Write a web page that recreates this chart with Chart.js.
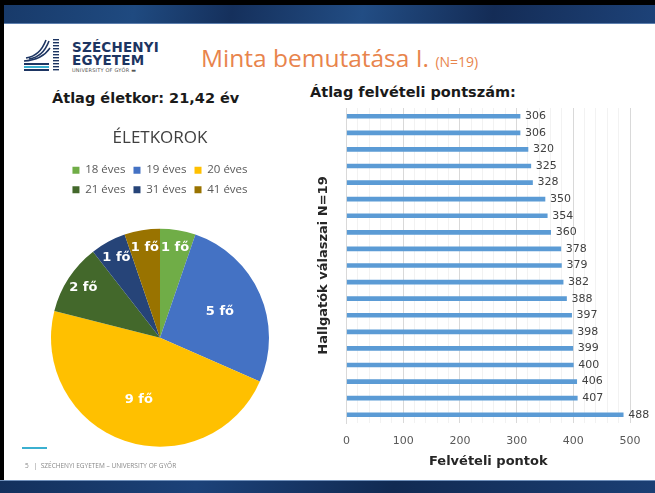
<!DOCTYPE html>
<html>
<head>
<meta charset="utf-8">
<script src="https://cdn.jsdelivr.net/npm/chart.js@4/dist/chart.umd.min.js"></script>
<style>
  html, body { margin: 0; padding: 0; }
  body { width: 655px; height: 493px; position: relative; overflow: hidden; background: #fff; font-family: "DejaVu Sans", Verdana, sans-serif; }
  .abs { position: absolute; }
  #topbar { left: 0; top: 0; width: 655px; height: 24px; background: #000; }
  #topbar div { position: absolute; left: 4px; top: 5px; right: 0; bottom: 0;
    background: linear-gradient(100deg, #183a6a 0%, #1f4a80 20%, #15305c 35%, #224d84 55%, #142c56 75%, #1d4278 100%); border-bottom: 1px solid #5d7fae; }
  #leftline { left: 0; top: 0; width: 4px; height: 493px; background: #000; }
  #botbar { left: 0; top: 480px; width: 655px; height: 13px;
    background: linear-gradient(100deg, #13305c 0%, #1c4279 30%, #112a52 60%, #1b3f74 100%); border-top: 1px solid #7090bb; }
  #brand1, #brand2 { left: 72px; font-weight: bold; color: #1d3562; font-size: 13.5px; letter-spacing: 0.2px; }
  #brand1 { top: 39px; }
  #brand2 { top: 52px; }
  #brand3 { left: 72px; top: 67px; font-size: 5px; color: #555; letter-spacing: 0.2px; }
  #title { left: 201px; top: 41px; font-family: "Open Sans", sans-serif; font-size: 24.5px; color: #e8844c; white-space: nowrap; }
  #title span { font-size: 14px; }
  #h1 { left: 52px; top: 90px; font-weight: bold; font-size: 14.5px; color: #1a1a1a; white-space: nowrap; }
  #h2 { left: 310px; top: 84px; font-weight: bold; font-size: 14.5px; color: #1a1a1a; white-space: nowrap; }
  #footline { left: 22px; top: 447px; width: 25px; height: 2px; background: #3bb0d0; }
  #foot { left: 25px; top: 461px; font-size: 6.5px; color: #888; white-space: nowrap; font-family: "Open Sans", sans-serif; }
  #pieWrap { left: 40px; top: 108px; width: 240px; height: 372px; }
  #barWrap { left: 300px; top: 100px; width: 355px; height: 381px; }
</style>
</head>
<body>
<div id="topbar" class="abs"><div></div></div>
<div id="leftline" class="abs"></div>
<div id="botbar" class="abs"></div>

<svg class="abs" style="left:20px;top:36px" width="42" height="36" viewBox="0 0 42 36">
  <path d="M6 22 Q20 20 26 4" stroke="#1d3562" stroke-width="1.6" fill="none"/>
  <path d="M9 23 Q23 21 29 5" stroke="#1d3562" stroke-width="1.6" fill="none"/>
  <path d="M4 25 Q22 24 30 12" stroke="#1d3562" stroke-width="1.4" fill="none"/>
  <rect x="4" y="27" width="25" height="2" fill="#1d3562"/>
  <rect x="4" y="30" width="25" height="2" fill="#3bb0d0"/>
  <rect x="4" y="33" width="25" height="2" fill="#1d3562"/>
  <g fill="#1d3562">
    <rect x="33" y="3" width="6" height="1.4"/><rect x="33" y="6" width="6" height="1.4"/>
    <rect x="33" y="9" width="6" height="1.4"/><rect x="33" y="12" width="6" height="1.4"/>
    <rect x="33" y="15" width="6" height="1.4"/><rect x="33" y="18" width="6" height="1.4"/>
    <rect x="33" y="21" width="6" height="1.4"/><rect x="33" y="24" width="6" height="1.4"/>
    <rect x="33" y="27" width="6" height="1.4"/><rect x="33" y="30" width="6" height="1.4"/>
    <rect x="33" y="33" width="6" height="1.4"/>
  </g>
</svg>
<div id="brand1" class="abs">SZÉCHENYI</div>
<div id="brand2" class="abs">EGYETEM</div>
<div id="brand3" class="abs">UNIVERSITY OF GYŐR ▬</div>

<div id="title" class="abs">Minta bemutatása I. <span>(N=19)</span></div>
<div id="h1" class="abs">Átlag életkor: 21,42 év</div>
<div id="h2" class="abs">Átlag felvételi pontszám:</div>

<div id="pieWrap" class="abs"><canvas id="pie"></canvas></div>
<div id="barWrap" class="abs"><canvas id="bar"></canvas></div>

<div id="footline" class="abs"></div>
<div id="foot" class="abs">5 &nbsp;&nbsp;| &nbsp;SZÉCHENYI EGYETEM – UNIVERSITY OF GYŐR</div>

<script>
// életkorok
const ageLabels = ['18 éves', '19 éves', '20 éves', '21 éves', '31 éves', '41 éves'];
const ageCounts = [1, 5, 9, 2, 1, 1];
const ageColors = ['#70ad47', '#4472c4', '#ffc000', '#43682b', '#264478', '#997300'];

// felvételi pontok
const scoreLabels = ['1','2','3','4','5','6','7','8','9','10','11','12','13','14','15','16','17','18','19'];
const scores = [306, 306, 320, 325, 328, 350, 354, 360, 378, 379, 382, 388, 397, 398, 399, 400, 406, 407, 488];
const xTicks = [0, 100, 200, 300, 400, 500];

Chart.defaults.font.family = '"DejaVu Sans", Verdana, sans-serif';
Chart.defaults.color = '#595959';

// labels inside the slices ("1 fő")
const pieLabels = {
  id: 'pieLabels',
  afterDatasetsDraw(chart) {
    const ctx = chart.ctx;
    const meta = chart.getDatasetMeta(0);
    const total = ageCounts.reduce((a, b) => a + b, 0);
    ctx.save();
    ctx.font = 'bold 13px "DejaVu Sans", Verdana, sans-serif';
    ctx.fillStyle = '#fff';
    ctx.textAlign = 'center';
    ctx.textBaseline = 'middle';
    meta.data.forEach((arc, i) => {
      const p = arc.getProps(['x', 'y', 'startAngle', 'endAngle', 'outerRadius'], true);
      const mid = (p.startAngle + p.endAngle) / 2;
      const k = ageCounts[i] / total > 0.15 ? 0.6 : 0.84;
      const r = p.outerRadius * k;
      ctx.fillText(ageCounts[i] + ' fő', p.x + Math.cos(mid) * r, p.y + Math.sin(mid) * r);
    });
    ctx.restore();
  }
};

new Chart(document.getElementById('pie'), {
  type: 'pie',
  data: {
    labels: ageLabels,
    datasets: [{
      data: ageCounts,
      backgroundColor: ageColors,
      borderWidth: 0
    }]
  },
  options: {
    responsive: true,
    maintainAspectRatio: false,
    animation: false,
    layout: { padding: { left: 11, right: 11, top: 20, bottom: 10 } },
    plugins: {
      title: {
        display: true,
        text: 'ÉLETKOROK',
        color: '#404040',
        font: { size: 17, weight: 'normal', family: '"Open Sans", sans-serif' },
        padding: { top: 0, bottom: 8 }
      },
      legend: {
        position: 'top',
        labels: {
          boxWidth: 7,
          boxHeight: 7,
          padding: 8,
          color: '#595959',
          font: { size: 11.5, family: '"Open Sans", sans-serif' }
        }
      },
      tooltip: { enabled: false }
    }
  },
  plugins: [pieLabels]
});

// value labels at the end of the bars
const barLabels = {
  id: 'barLabels',
  afterDatasetsDraw(chart) {
    const ctx = chart.ctx;
    const meta = chart.getDatasetMeta(0);
    ctx.save();
    ctx.font = '11px "DejaVu Sans", Verdana, sans-serif';
    ctx.fillStyle = '#404040';
    ctx.textAlign = 'left';
    ctx.textBaseline = 'middle';
    meta.data.forEach((bar, i) => {
      ctx.fillText(scores[i], bar.x + 5, bar.y);
    });
    ctx.restore();
  }
};

new Chart(document.getElementById('bar'), {
  type: 'bar',
  data: {
    labels: scoreLabels,
    datasets: [{
      data: scores,
      backgroundColor: '#5b9bd5',
      barThickness: 4
    }]
  },
  options: {
    indexAxis: 'y',
    responsive: true,
    maintainAspectRatio: false,
    animation: false,
    layout: { padding: { left: 12, right: 25, top: 8, bottom: 0 } },
    plugins: {
      legend: { display: false },
      tooltip: { enabled: false }
    },
    scales: {
      x: {
        min: xTicks[0],
        max: xTicks[xTicks.length - 1],
        afterFit: (s) => { s.height = 58; },
        ticks: {
          stepSize: 20,
          autoSkip: false,
          maxRotation: 0,
          padding: 12,
          color: '#595959',
          font: { size: 11 },
          callback: (v) => xTicks.includes(v) ? v : ''
        },
        grid: {
          color: (c) => xTicks.includes(c.tick && c.tick.value) ? '#d9d9d9' : '#f2f2f2',
          drawTicks: false
        },
        border: { display: false },
        title: {
          display: true,
          text: 'Felvételi pontok',
          color: '#262626',
          font: { size: 13, weight: 'bold' },
          padding: { top: 0, bottom: 12 }
        }
      },
      y: {
        ticks: { display: false },
        grid: { display: false },
        border: { display: true, color: '#d9d9d9' },
        title: {
          display: true,
          text: 'Hallgatók válaszai N=19',
          color: '#262626',
          font: { size: 13, weight: 'bold' },
          padding: { bottom: 7 }
        }
      }
    }
  },
  plugins: [barLabels]
});
</script>
</body>
</html>
